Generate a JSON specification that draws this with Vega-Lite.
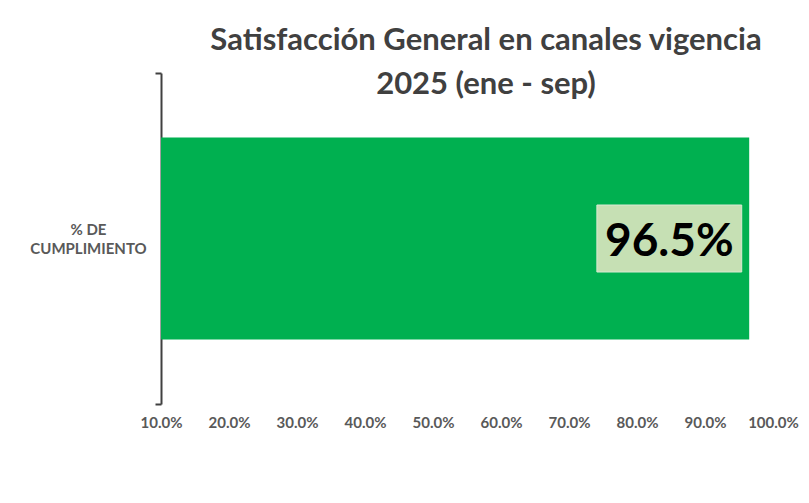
{
  "$schema": "https://vega.github.io/schema/vega-lite/v6.json",
  "autosize": {"type": "none"},
  "width": 612,
  "height": 331,
  "padding": {"left": 161, "top": 73, "right": 36, "bottom": 99},
  "background": "white",
  "config": {
    "view": {"stroke": null},
    "font": "Lato"
  },
  "title": {
    "text": ["Satisfacción General en canales vigencia", "2025 (ene - sep)"],
    "fontSize": 31,
    "fontWeight": "bold",
    "font": "Lato",
    "color": "#404040",
    "lineHeight": 44,
    "anchor": "middle",
    "dx": 19,
    "offset": -35
  },
  "data": {"values": [{"categoria": "% DE CUMPLIMIENTO", "valor": 0.965, "base": 0.1, "etiqueta": "96.5%"}]},
  "encoding": {
    "y": {
      "field": "categoria",
      "type": "nominal",
      "title": null,
      "scale": {"paddingInner": 0, "paddingOuter": 0},
      "axis": {
        "labelExpr": "datum.label ? ['% DE', 'CUMPLIMIENTO'] : ''",
        "labelAlign": "center",
        "labelBaseline": "middle",
        "labelPadding": 67,
        "labelOffset": -9,
        "labelFontSize": 15,
        "labelFontWeight": "bold",
        "labelColor": "#595959",
        "labelLineHeight": 19,
        "tickBand": "extent",
        "tickSize": 6,
        "tickWidth": 2,
        "tickColor": "#404040",
        "domainColor": "#404040",
        "domainWidth": 2
      }
    }
  },
  "layer": [
    {
      "mark": {"type": "bar", "color": "#00B050", "size": 202},
      "encoding": {
        "x": {
          "field": "valor",
          "type": "quantitative",
          "title": null,
          "scale": {"domain": [0.1, 1.0], "nice": false, "zero": false},
          "axis": {
            "values": [0.1, 0.2, 0.3, 0.4, 0.5, 0.6, 0.7, 0.8, 0.9, 1.0],
            "format": ".1%",
            "grid": false,
            "domain": false,
            "ticks": false,
            "labelFlush": false,
            "labelPadding": 11,
            "labelFontSize": 15,
            "labelFontWeight": "bold",
            "labelColor": "#595959"
          }
        },
        "x2": {"field": "base"}
      }
    },
    {
      "mark": {"type": "bar", "color": "#C6E0B4", "size": 67, "stroke": "#D9EAD3", "strokeWidth": 1},
      "encoding": {
        "x": {"datum": 0.741, "type": "quantitative"},
        "x2": {"datum": 0.954}
      }
    },
    {
      "mark": {"type": "text", "fontSize": 46, "fontWeight": "bold", "color": "#000000", "align": "center", "baseline": "middle", "dy": 3},
      "encoding": {
        "x": {"datum": 0.8475, "type": "quantitative"},
        "text": {"field": "etiqueta"}
      }
    }
  ]
}
